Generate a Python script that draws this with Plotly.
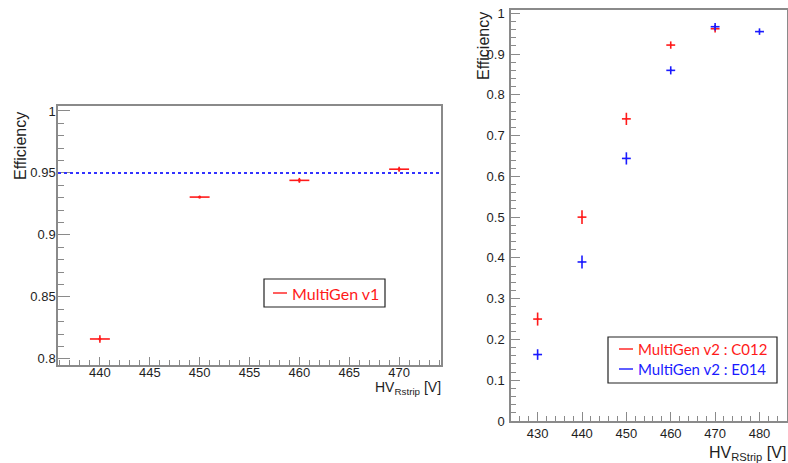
import plotly.graph_objects as go

# ---------------- data ----------------
# Left panel: MultiGen v1
v1_hv = [440, 450, 460, 470]
v1_eff = [0.816, 0.9305, 0.944, 0.953]
v1_err_eff = [0.003, 0.001, 0.002, 0.002]
v1_err_hv = [1, 1, 1, 1]
ref_eff = 0.95

# Right panel: MultiGen v2
c012_hv = [430, 440, 450, 460, 470]
c012_eff = [0.250, 0.500, 0.741, 0.922, 0.962]
c012_err_eff = [0.016, 0.017, 0.015, 0.009, 0.009]

e014_hv = [430, 440, 450, 460, 470, 480]
e014_eff = [0.163, 0.390, 0.644, 0.860, 0.967, 0.955]
e014_err_eff = [0.013, 0.016, 0.015, 0.010, 0.009, 0.008]

err_hv = 1

names_left = ["MultiGen v1"]
names_right = ["MultiGen v2 : C012", "MultiGen v2 : E014"]

RED = "#ff1a1a"
BLUE = "#1a1aff"
FRAME = "#8a8a8a"
TXT = "#1e1e1e"
FONT = "Liberation Sans, Arial, sans-serif"
LEGFONT = "Lato, Open Sans, sans-serif"

W, H = 788, 463


def px(x):
    return x / W


def py(y):
    return 1 - y / H


fig = go.Figure()

# left data
fig.add_trace(go.Scatter(
    x=v1_hv, y=v1_eff, mode="markers", xaxis="x", yaxis="y", name=names_left[0],
    marker=dict(color=RED, size=3),
    error_x=dict(type="data", array=v1_err_hv, color=RED, thickness=1.6, width=0),
    error_y=dict(type="data", array=v1_err_eff, color=RED, thickness=1.6, width=0),
    showlegend=False))

# right data
fig.add_trace(go.Scatter(
    x=c012_hv, y=c012_eff, mode="markers", xaxis="x2", yaxis="y2", name=names_right[0],
    marker=dict(color=RED, size=2),
    error_x=dict(type="constant", value=err_hv, color=RED, thickness=1.6, width=0),
    error_y=dict(type="data", array=c012_err_eff, color=RED, thickness=1.6, width=0),
    showlegend=False))
fig.add_trace(go.Scatter(
    x=e014_hv, y=e014_eff, mode="markers", xaxis="x2", yaxis="y2", name=names_right[1],
    marker=dict(color=BLUE, size=2),
    error_x=dict(type="constant", value=err_hv, color=BLUE, thickness=1.6, width=0),
    error_y=dict(type="data", array=e014_err_eff, color=BLUE, thickness=1.6, width=0),
    showlegend=False))

axis_common = dict(
    showline=True, linecolor=FRAME, linewidth=1.5, mirror=True, automargin=False,
    showgrid=False, zeroline=False, ticks="inside", tickcolor=FRAME,
    tickwidth=1.2,
)

fig.update_layout(
    width=W, height=H,
    margin=dict(l=0, r=0, t=0, b=0, pad=0, autoexpand=False),
    paper_bgcolor="white", plot_bgcolor="white",
    showlegend=False,
    xaxis=dict(domain=[px(58), px(441)], range=[435.8, 474.2], anchor="y",
               dtick=5, tick0=440, ticklen=8, ticklabelstandoff=-5,
               minor=dict(dtick=1, ticks="inside", ticklen=5, tickcolor=FRAME, tickwidth=1.2),
               tickfont=dict(family=FONT, color=TXT, size=13), **axis_common),
    yaxis=dict(domain=[py(365), py(106)], range=[0.795, 1.004], anchor="x",
               dtick=0.05, tick0=0.8, ticklen=12, ticklabelstandoff=-2,
               minor=dict(dtick=0.01, ticks="inside", ticklen=6, tickcolor=FRAME, tickwidth=1.2),
               tickfont=dict(family=FONT, color=TXT, size=13), **axis_common),
    xaxis2=dict(domain=[px(511), px(787)], range=[424, 486.2], anchor="y2",
                dtick=10, tick0=430, ticklen=9, ticklabelstandoff=0,
                minor=dict(dtick=2, ticks="inside", ticklen=5, tickcolor=FRAME, tickwidth=1.2),
                tickfont=dict(family=FONT, color=TXT, size=13), **axis_common),
    yaxis2=dict(domain=[py(421), py(10)], range=[0, 1.008], anchor="x2",
                dtick=0.1, tick0=0, ticklen=9, ticklabelstandoff=2,
                minor=dict(dtick=0.02, ticks="inside", ticklen=5, tickcolor=FRAME, tickwidth=1.2),
                tickfont=dict(family=FONT, color=TXT, size=13), **axis_common),
)

# reference line at 0.95 (left panel)
fig.add_shape(type="line", xref="x domain", yref="y", x0=0, x1=1, y0=ref_eff, y1=ref_eff,
              line=dict(color="#3333ff", width=2, dash="dot"))

# ---- legends (ROOT TLegend style boxes) ----
def legend_box(x0, y0, x1, y1):
    fig.add_shape(type="rect", xref="paper", yref="paper",
                  x0=px(x0), x1=px(x1), y0=py(y1), y1=py(y0),
                  line=dict(color="#222", width=1.2), fillcolor="white", layer="above")


def legend_entry(xl, y, text, color, size):
    fig.add_shape(type="line", xref="paper", yref="paper",
                  x0=px(xl), x1=px(xl + 14), y0=py(y), y1=py(y),
                  line=dict(color=color, width=1.4), layer="above")
    fig.add_annotation(text=text, xref="paper", yref="paper", x=px(xl + 17), y=py(y),
                       xanchor="left", yanchor="middle", showarrow=False,
                       font=dict(family=LEGFONT, size=size, color=color))


legend_box(264, 279, 385, 307)
legend_entry(273, 293, names_left[0], RED, 16)

legend_box(608, 337, 777, 383)
legend_entry(619, 349, names_right[0], RED, 15)
legend_entry(619, 369, names_right[1], BLUE, 15)

# axis titles as annotations (ROOT style: right/top aligned)
fig.add_annotation(text="Efficiency", xref="paper", yref="paper", x=px(20), y=py(110),
                   xanchor="center", yanchor="top", textangle=-90, showarrow=False,
                   font=dict(family=FONT, size=16, color=TXT))
fig.add_annotation(text="HV<sub>Rstrip</sub> [V]", xref="paper", yref="paper", x=px(443), y=py(377),
                   xanchor="right", yanchor="top", showarrow=False,
                   font=dict(family=FONT, size=14, color=TXT))
fig.add_annotation(text="Efficiency", xref="paper", yref="paper", x=px(483), y=py(10),
                   xanchor="center", yanchor="top", textangle=-90, showarrow=False,
                   font=dict(family=FONT, size=16, color=TXT))
fig.add_annotation(text="HV<sub>RStrip</sub> [V]", xref="paper", yref="paper", x=px(788), y=py(442),
                   xanchor="right", yanchor="top", showarrow=False,
                   font=dict(family=FONT, size=16, color=TXT))

fig.write_html(
    "out.html",
    config={"displayModeBar": False},
    post_script="document.body.style.margin='0';document.body.style.overflow='hidden';",
)
